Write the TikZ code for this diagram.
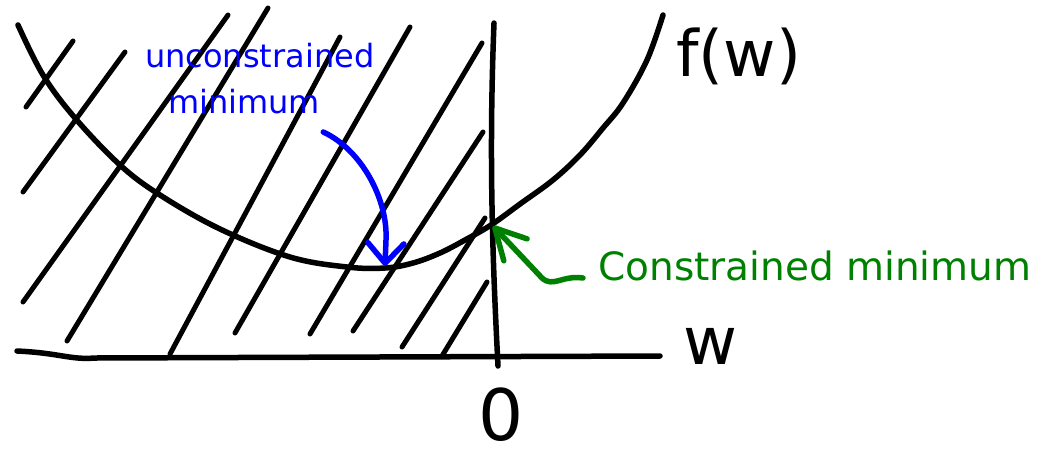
\documentclass[tikz,border=0pt]{standalone}
\usepackage{fontspec}
\setmainfont{DejaVu Sans}
\usetikzlibrary{arrows.meta, positioning, calc}
\definecolor{hintblue}{HTML}{0000FF}
\definecolor{hintgreen}{HTML}{008000}

\begin{document}
\begin{tikzpicture}[x=1pt, y=-1pt,
    ink/.style={line width=5.5pt, line cap=round, line join=round},
    hatch/.style={ink, line width=5pt},
    note/.style={inner sep=0pt, anchor=base west}]
    \useasboundingbox (0,0) rectangle (1040,458);

    % infeasible side, w < 0
    \foreach \xa/\ya/\xb/\yb in {26/107/73/41, 23/192/125/52, 23/302/228/15,
        67/341/268/8, 170/354/340/37, 235/333/410/27, 310/334/482/43,
        353/331/483/132, 402/347/485/218, 442/356/487/282}
        \draw[hatch] (\xa,\ya) -- (\xb,\yb);

    % axes
    \draw[ink] (17,351) .. controls (60,353) and (70,360) .. (95,358) -- (660,356);
    \draw[ink] (494,23) .. controls (489,150) and (492,250) .. (498,366);

    % objective
    \draw[ink] plot[smooth, tension=0.6] coordinates {(18,25) (43,75) (75,118)
        (120,165) (160,195) (220,229) (290,257) (347,267) (385,268) (413,263)
        (440,253) (465,240) (491,225) (520,204) (553,180) (580,155) (603,128)
        (623,103) (647,60) (663,15)};

    \coordinate (umin) at (385,266);
    \coordinate (cpt) at (493,226);

    \node[note, font=\fontsize{64}{64}\selectfont] (fw) at (676,76) {f(w)};
    \node[note, font=\fontsize{66}{66}\selectfont] (wlab) at (683,364) {w};
    \node[note, font=\fontsize{71}{71}\selectfont] (zero) at (478,440) {0};

    \node[note, text=hintblue, font=\fontsize{32}{32}\selectfont] (uncon) at (145,67) {unconstrained};
    \node[note, text=hintblue, font=\fontsize{32}{32}\selectfont] (minim) at (168,113) {minimum};
    \node[note, text=hintgreen, font=\fontsize{39}{39}\selectfont] (cmin) at (598,280) {Constrained minimum};

    % pointers
    \draw[ink, hintblue, -{Straight Barb[length=20pt, width=36pt, round]}]
        ($(minim.base east)+(3,19)$) .. controls (362,150) and (388,200) .. (386,240) -- (umin);
    \draw[ink, hintgreen, -{Straight Barb[length=30pt, width=32pt, round]}]
        ($(cmin.base west)+(-15,-2)$) .. controls (562,275) and (553,288) .. (542,278) -- (cpt);
\end{tikzpicture}
\end{document}
